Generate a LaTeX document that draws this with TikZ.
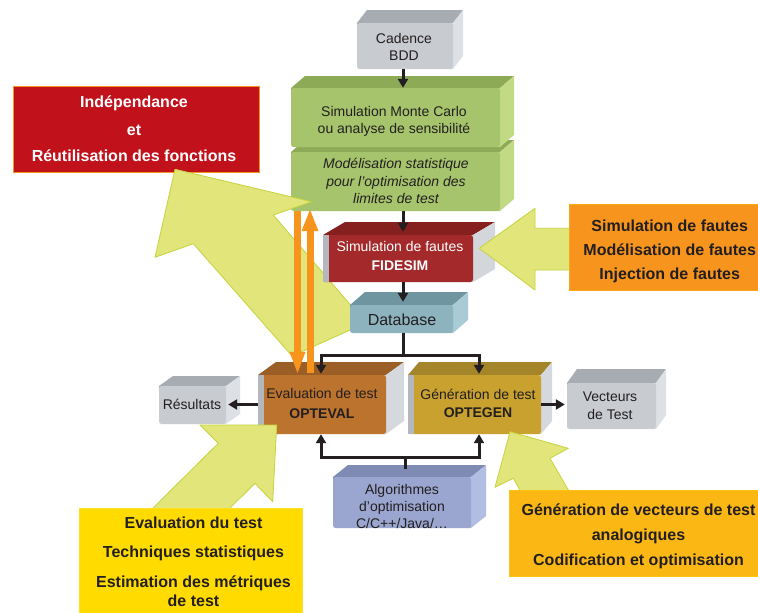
\documentclass[tikz,border=0pt]{standalone}
\usepackage{fontspec}
\setmainfont{Liberation Sans}
\usetikzlibrary{arrows.meta,calc}
\definecolor{txt}{HTML}{231F20}
\definecolor{gryF}{HTML}{C8CBD0}\definecolor{gryT}{HTML}{A7ABB2}\definecolor{gryS}{HTML}{DDE0E4}
\definecolor{grnF}{HTML}{A6C46C}\definecolor{grnT}{HTML}{8DAA57}\definecolor{grnS}{HTML}{C3DA84}
\definecolor{fidF}{HTML}{A3292B}\definecolor{fidT}{HTML}{85201F}\definecolor{fidS}{HTML}{D3D6DB}
\definecolor{dbF}{HTML}{8DB3BF}\definecolor{dbT}{HTML}{6F95A0}\definecolor{dbS}{HTML}{A8CBD6}
\definecolor{evF}{HTML}{BB732D}\definecolor{evT}{HTML}{9B5E26}\definecolor{evS}{HTML}{D5D8DC}
\definecolor{genF}{HTML}{C8A12F}\definecolor{genT}{HTML}{A5852A}\definecolor{genS}{HTML}{D5D8DC}
\definecolor{alF}{HTML}{9AA6CF}\definecolor{alT}{HTML}{7F8BB2}\definecolor{alS}{HTML}{B1BDE2}
\definecolor{stripc}{HTML}{B4B8BE}
\definecolor{redC}{HTML}{C1121C}
\definecolor{oarr}{HTML}{F7941D}
\definecolor{yelC}{HTML}{FFDB00}
\definecolor{ambC}{HTML}{FBB714}
\definecolor{bigF}{HTML}{E1E57A}
\definecolor{bigD}{HTML}{C5D33C}
% name x1 y1 x2 y2 dx dy prefix
\newcommand\cube[8]{%
  \fill[#8T] (#2,{#3+4}) -- (#2,#3) -- ({#2+#6},{#3-#7}) -- ({#4+#6},{#3-#7}) -- (#4,#3) -- (#4,{#3+4}) -- cycle;
  \fill[#8S] (#4,#3) -- ({#4+#6},{#3-#7}) -- ({#4+#6},{#5-#7}) -- (#4,#5) -- ({#4-4},#5) -- ({#4-4},#3) -- cycle;
  \node[front, fill=#8F, minimum width={#4-#2}, minimum height={#5-#3}] (#1) at ({(#2+#4)/2},{(#3+#5)/2}) {};
}
\begin{document}
\begin{tikzpicture}[x=1pt,y=-1pt,
  front/.style={rounded corners=2.5pt, inner sep=0pt, draw=none},
  lbl/.style={align=center, text=txt, inner sep=0pt, font=\fontsize{14}{17}\selectfont},
  callbox/.style={inner sep=0pt, line width=0.8pt},
  call/.style={align=center, text=txt, inner sep=0pt, font=\bfseries\fontsize{16}{19}\selectfont},
  big/.style={fill=bigF, draw=bigD, line width=0.8pt, line join=round},
  conn/.style={draw=txt, line width=3pt, -{Triangle[width=10pt,length=9pt]}},
  orarrow/.style={draw=oarr, line width=7pt, -{Triangle[width=15pt,length=23pt]}}]
\useasboundingbox (0,0) rectangle (758,613);
\fill[white] (0,0) rectangle (758,613);
% red callout
\node[callbox, fill=redC, draw=oarr, minimum width=246, minimum height=86] (cr) at (136,129) {};
\node[call, text=white] (cr-t) at (134,128.5) {Indépendance\\[9.3pt]et\\[7pt]Réutilisation des fonctions};
% top boxes
\cube{cad}{357}{23}{453}{69}{10}{13}{gry}
\node[lbl] (cad-t) at (404,46.5) {Cadence\\BDD};
\cube{grn2}{291}{152}{500}{211}{14}{12}{grn}
\cube{grn1}{291}{88}{500}{147}{14}{12}{grn}
\node[lbl] (grn1-t) at (394,121.3) {Simulation Monte Carlo\\ou analyse de sensibilité};
\node[lbl, font=\itshape\fontsize{14}{17}\selectfont] (grn2-t) at (396,181.2) {Modélisation statistique\\[0.5pt]pour l’optimisation des\\[0.5pt]limites de test};
% big arrow 1
\filldraw[big] (175,169.3) -- (311.7,201.7) -- (273.3,215) -- (366,323) -- (292,356) -- (193.3,243.7) -- (155,257.3) -- cycle;
% fidesim and database
\cube{fid}{323}{235}{473}{282}{22}{13}{fid}
\fill[stripc] (fid.south west) rectangle ($(fid.north west)+(6,0)$);
\node[lbl, text=white] (fid-t) at (400,256) {Simulation de fautes\\[1.3pt]\textbf{FIDESIM}};
\cube{db}{350}{305}{453}{333}{15}{13}{db}
\node[lbl, font=\fontsize{16}{19}\selectfont] (db-t) at (402,320) {Database};
% big arrow 2 and orange callout
\filldraw[big] (479.3,248.3) -- (535,208.3) -- (535,228.3) -- (575,228.3) -- (575,270) -- (535,270) -- (535,290) -- cycle;
\node[callbox, fill=oarr, draw=oarr!80!yellow, minimum width=201, minimum height=86] (co) at (669.5,247) {};
\node[call] (co-t) at (669.7,251.3) {Simulation de fautes\\[4.6pt]Modélisation de fautes\\[4.6pt]Injection de fautes};
% middle boxes
\cube{ev}{258}{375}{386}{434}{18}{13}{ev}
\fill[stripc] (ev.south west) rectangle ($(ev.north west)+(6,0)$);
\node[lbl] (ev-t) at (322,403) {Evaluation de test\\[3pt]\textbf{OPTEVAL}};
\cube{gen}{408}{375}{541}{434}{11}{13}{gen}
\fill[stripc] (gen.south west) rectangle ($(gen.north west)+(6,0)$);
\node[lbl] (gen-t) at (478,403.7) {Génération de test\\[1.3pt]\textbf{OPTEGEN}};
\cube{res}{159}{386}{226}{424}{14}{10}{gry}
\node[lbl] (res-t) at (192,404.7) {Résultats};
\cube{vec}{567}{383}{656}{429}{10}{14}{gry}
\node[lbl] (vec-t) at (610,405.6) {Vecteurs\\[1pt]de Test};
\cube{algo}{333}{477}{471}{528}{15}{12}{al}
\node[lbl] (algo-t) at (402,506.3) {Algorithmes\\d’optimisation\\C/C++/Java/…};
% big arrows 3 and 4
\filldraw[big] (276.7,425) -- (272.7,501.7) -- (255,483.3) -- (222,516) -- (145,516) -- (218.3,443.3) -- (200,425) -- cycle;
\filldraw[big] (510,431.7) -- (568.3,448.3) -- (550,458.3) -- (572.4,497) -- (523.7,497) -- (513.3,478.3) -- (495,487.3) -- cycle;
% bottom callouts
\node[callbox, fill=yelC, draw=yelC!85!white, minimum width=223, minimum height=107] (cy) at (190.5,561.5) {};
\node[call] (cy-t) at (193.5,562) {Evaluation du test\\[9.2pt]Techniques statistiques\\[11.5pt]Estimation des métriques\\de test};
\node[callbox, fill=ambC, draw=ambC!80!yellow, minimum width=261, minimum height=86] (ca) at (639.5,533.7) {};
\node[call] (ca-t) at (638.5,536.5) {Génération de vecteurs de test\\[6pt]analogiques\\[6pt]Codification et optimisation};
% orange arrows
\coordinate (oa) at (297.5,0);
\coordinate (ob) at (310,0);
\draw[orarrow, -{Triangle[width=14pt,length=23pt]}] (oa |- grn2.south) -- (oa |- ev.north);
\draw[orarrow] ($(ob |- ev.north)+(0,-2)$) -- ($(ob |- grn2.south)+(0,-3)$);
% black connectors
\coordinate (spine) at (403,0);
\draw[conn] (spine |- cad.south) -- (spine |- grn1.north);
\draw[conn] (spine |- grn2.south) -- ($(spine |- fid.north)+(0,-3)$);
\draw[conn] (spine |- fid.south) -- ($(spine |- db.north)+(0,-3)$);
\coordinate (split) at (403,355);
\coordinate (eL) at (321,0);
\coordinate (gL) at (479,0);
\draw[conn] (spine |- db.south) -- (split) -| ($(eL |- ev.north)+(0,-1)$);
\draw[conn] (split) -| ($(gL |- gen.north)+(0,-1)$);
\coordinate (join) at (405,457);
\draw[conn] ($(join |- algo.north)+(0,-8)$) -- (join) -| (eL |- ev.south);
\draw[conn] (join) -| (gL |- gen.south);
\draw[conn] (ev.west) -- ($(res.east |- ev.west)+(2,0)$);
\draw[conn] (gen.east) -- ($(vec.west |- gen.east)+(-2,0)$);
\end{tikzpicture}
\end{document}
